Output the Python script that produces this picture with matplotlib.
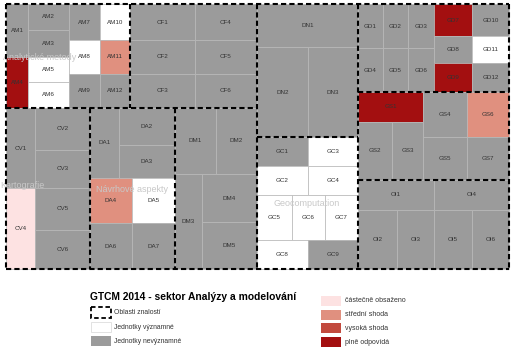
import matplotlib.pyplot as plt
from matplotlib.patches import Rectangle

plt.rcParams['font.family'] = ['Liberation Sans', 'DejaVu Sans']

# status: n = nevyznamne, v = vyznamne, c = castecne, s = stredni, h = vysoka, p = plne
colors = {'n': '#9b9b9b', 'v': '#ffffff', 'c': '#fde2e2',
          's': '#e0907f', 'h': '#c24a3e', 'p': '#a30f10'}

# units of each knowledge area and their match status
am_units = ['AM1', 'AM4', 'AM2', 'AM3', 'AM5', 'AM6', 'AM7', 'AM8', 'AM9', 'AM10', 'AM11', 'AM12']
am_status = ['n', 'p', 'n', 'n', 'v', 'v', 'n', 'v', 'n', 'v', 's', 'n']
cf_units = ['CF1', 'CF2', 'CF3', 'CF4', 'CF5', 'CF6']
cf_status = ['n'] * 6
dn_units = ['DN1', 'DN2', 'DN3']
dn_status = ['n'] * 3
gd_units = ['GD1', 'GD2', 'GD3', 'GD4', 'GD5', 'GD6', 'GD7', 'GD8', 'GD9', 'GD10', 'GD11', 'GD12']
gd_status = ['n', 'n', 'n', 'n', 'n', 'n', 'p', 'n', 'p', 'n', 'v', 'n']
gs_units = ['GS1', 'GS2', 'GS3', 'GS4', 'GS5', 'GS6', 'GS7']
gs_status = ['p', 'n', 'n', 'n', 'n', 's', 'n']
oi_units = ['OI1', 'OI4', 'OI2', 'OI3', 'OI5', 'OI6']
oi_status = ['n'] * 6
cv_units = ['CV1', 'CV4', 'CV2', 'CV3', 'CV5', 'CV6']
cv_status = ['n', 'c', 'n', 'n', 'n', 'n']
da_units = ['DA1', 'DA2', 'DA3', 'DA4', 'DA5', 'DA6', 'DA7']
da_status = ['n', 'n', 'n', 's', 'v', 'n', 'n']
dm_units = ['DM1', 'DM2', 'DM3', 'DM4', 'DM5']
dm_status = ['n'] * 5
gc_units = ['GC1', 'GC3', 'GC2', 'GC4', 'GC5', 'GC6', 'GC7', 'GC8', 'GC9']
gc_status = ['n', 'v', 'v', 'v', 'v', 'v', 'v', 'v', 'n']

# treemap layout (x0, y0, x1, y1) in pixels
am_rects = [(6, 4, 28, 57), (6, 57, 28, 108), (28, 4, 69, 30), (28, 30, 69, 57),
            (28, 57, 69, 82), (28, 82, 69, 108), (69, 4, 100, 40), (69, 40, 100, 74),
            (69, 74, 100, 108), (100, 4, 130, 40), (100, 40, 130, 74), (100, 74, 130, 108)]
cf_rects = [(130, 4, 195, 40), (130, 40, 195, 74), (130, 74, 195, 108),
            (195, 4, 257, 40), (195, 40, 257, 74), (195, 74, 257, 108)]
dn_rects = [(257, 4, 358, 47), (257, 47, 308, 137), (308, 47, 358, 137)]
gd_rects = [(358, 4, 383, 48), (383, 4, 408, 48), (408, 4, 434, 48),
            (358, 48, 383, 92), (383, 48, 408, 92), (408, 48, 434, 92),
            (434, 4, 472, 36), (434, 36, 472, 63), (434, 63, 472, 92),
            (472, 4, 509, 36), (472, 36, 509, 63), (472, 63, 509, 92)]
gs_rects = [(358, 92, 423, 122), (358, 122, 392, 180), (392, 122, 423, 180),
            (423, 92, 467, 137), (423, 137, 467, 180), (467, 92, 509, 137), (467, 137, 509, 180)]
oi_rects = [(358, 180, 434, 210), (434, 180, 509, 210), (358, 210, 397, 269),
            (397, 210, 434, 269), (434, 210, 472, 269), (472, 210, 509, 269)]
cv_rects = [(6, 108, 35, 188), (6, 188, 35, 269), (35, 108, 90, 150),
            (35, 150, 90, 188), (35, 188, 90, 230), (35, 230, 90, 269)]
da_rects = [(90, 108, 119, 178), (119, 108, 175, 145), (119, 145, 175, 178),
            (90, 178, 132, 223), (132, 178, 175, 223), (90, 223, 132, 269), (132, 223, 175, 269)]
dm_rects = [(175, 108, 216, 174), (216, 108, 257, 174), (175, 174, 202, 269),
            (202, 174, 257, 222), (202, 222, 257, 269)]
gc_rects = [(257, 137, 308, 166), (308, 137, 358, 166), (257, 166, 308, 195),
            (308, 166, 358, 195), (257, 195, 292, 240), (292, 195, 325, 240),
            (325, 195, 358, 240), (257, 240, 308, 269), (308, 240, 358, 269)]

area_rects = [(6, 4, 130, 108), (130, 4, 257, 108), (257, 4, 358, 137), (358, 4, 509, 92),
              (358, 92, 509, 180), (358, 180, 509, 269), (6, 108, 90, 269),
              (90, 108, 175, 269), (175, 108, 257, 269), (257, 137, 358, 269)]
area_labels = ['Analytické metody', 'Kartografie', 'Návrhové aspekty', 'Geocomputation']
area_label_pos = [(40, 57), (22, 186), (132, 190), (307, 203)]

units = am_units + cf_units + dn_units + gd_units + gs_units + oi_units + cv_units + da_units + dm_units + gc_units
status = am_status + cf_status + dn_status + gd_status + gs_status + oi_status + cv_status + da_status + dm_status + gc_status
rects = am_rects + cf_rects + dn_rects + gd_rects + gs_rects + oi_rects + cv_rects + da_rects + dm_rects + gc_rects

fig = plt.figure(figsize=(5.15, 3.51), dpi=100)
ax = fig.add_axes([0, 0, 1, 1])
ax.set_xlim(0, 515)
ax.set_ylim(351, 0)
ax.axis('off')

for name, st, (x0, y0, x1, y1) in zip(units, status, rects):
    ax.add_patch(Rectangle((x0, y0), x1 - x0, y1 - y0, facecolor=colors[st],
                           edgecolor='#b8b8b8', lw=0.5, zorder=1))
    ax.text((x0 + x1) / 2, (y0 + y1) / 2, name, ha='center', va='center',
            fontsize=4.5, color='#333333', zorder=4)

for lab, (lx, ly) in zip(area_labels, area_label_pos):
    ax.text(lx, ly, lab, ha='center', va='center', fontsize=6.5, color='#c8c8c8', zorder=2)


# area borders: merge shared edges so dashes don't double up
def merge(segs):
    out = {}
    for c, a, b in sorted(segs):
        lst = out.setdefault(c, [])
        if lst and a <= lst[-1][1]:
            lst[-1][1] = max(lst[-1][1], b)
        else:
            lst.append([a, b])
    return out


hsegs, vsegs = [], []
for (x0, y0, x1, y1) in area_rects:
    hsegs += [(y0, x0, x1), (y1, x0, x1)]
    vsegs += [(x0, y0, y1), (x1, y0, y1)]
dash = dict(color='black', lw=1.5, linestyle=(0, (2.5, 1.5)), zorder=3, solid_capstyle='butt')
for y, spans in merge(hsegs).items():
    for a, b in spans:
        ax.plot([a, b], [y, y], **dash)
for x, spans in merge(vsegs).items():
    for a, b in spans:
        ax.plot([x, x], [a, b], **dash)

# legend
ax.text(90, 297, 'GTCM 2014 - sektor Analýzy a modelování', fontsize=7.4,
        fontweight='bold', ha='left', va='center')
left_items = ['Oblasti znalostí', 'Jednotky významné', 'Jednotky nevýznamné']
left_y = [307, 322, 336]
ax.add_patch(Rectangle((91, left_y[0]), 20, 11, fill=False, edgecolor='black',
                       lw=1.3, linestyle=(0, (2.5, 1.5))))
ax.add_patch(Rectangle((91, left_y[1]), 20, 10, facecolor='white', edgecolor='#dddddd', lw=0.6))
ax.add_patch(Rectangle((91, left_y[2]), 20, 10, facecolor=colors['n'], edgecolor='none'))
for lab, y in zip(left_items, left_y):
    ax.text(114, y + 5.5, lab, fontsize=4.9, color='#333333', ha='left', va='center')

right_items = ['částečně obsaženo', 'střední shoda', 'vysoká shoda', 'plně odpovídá']
right_keys = ['c', 's', 'h', 'p']
right_y = [296, 310, 323, 337]
for lab, k, y in zip(right_items, right_keys, right_y):
    ax.add_patch(Rectangle((321, y), 20, 10, facecolor=colors[k], edgecolor='none'))
    ax.text(345, y + 5, lab, fontsize=5, color='#333333', ha='left', va='center')

fig.savefig('out.png', dpi=100)
